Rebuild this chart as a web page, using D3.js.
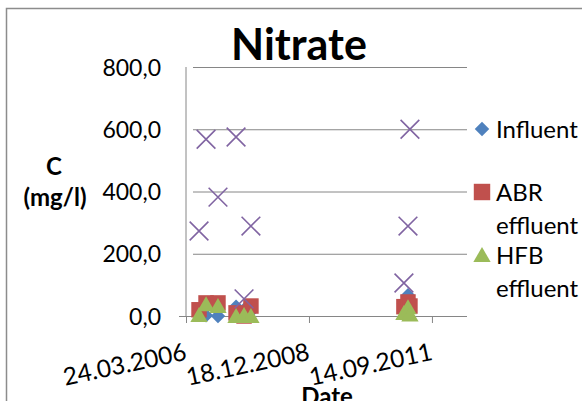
<!DOCTYPE html>
<html>
<head>
<meta charset="utf-8">
<script src="https://cdn.jsdelivr.net/npm/d3@7"></script>
<style>
  body { margin: 0; background: #fff; }
  text { font-family: Lato, "Open Sans", sans-serif; fill: #000; }
</style>
</head>
<body>
<div id="chart"></div>
<script>
const width = 582;
const height = 401;

const dates = ['08.07.2006', '03.09.2006', '09.12.2006', '05.05.2007', '09.07.2007',
               '03.09.2007', '29.01.2011', '03.03.2011', '19.03.2011'];
const influent = [10, 2, 0, 30, 20, 15, 40, 67, 50];
const abr = [20, 42, 42, 10, 0, 32, 30, 45, 32];
const hfb = [3, 38, 32, 0, 3, 0, 10, 28, 5];
const other = [273, 568, 382, 575, 55, 289, 106, 289, 600];

const xTicks = ['24.03.2006', '18.12.2008', '14.09.2011'];
const xEnd = '25.06.2012';
const yTicks = [0, 200, 400, 600, 800];

const colors = { inf: '#4f81bd', abr: '#c0504d', hfb: '#9bbb59', oth: '#8064a2' };

const parse = d3.utcParse('%d.%m.%Y');
const fmt = d3.formatLocale({ decimal: ',', thousands: '.', grouping: [3], currency: ['', ''] }).format('.1f');

const plot = { left: 186, right: 467, top: 67, bottom: 316 };

const x = d3.scaleUtc()
    .domain([parse(xTicks[0]), parse(xEnd)])
    .range([plot.left, plot.right]);
const y = d3.scaleLinear()
    .domain([0, 800])
    .range([plot.bottom, plot.top]);

const svg = d3.select('#chart')
    .append('svg')
    .attr('width', width)
    .attr('height', height);

// outer chart frame (cut off on right and bottom)
svg.append('rect')
    .attr('x', 6.5).attr('y', 8.5)
    .attr('width', 640).attr('height', 460)
    .attr('fill', '#fff')
    .attr('stroke', '#8c8c8c')
    .attr('stroke-width', 1.5);

// title
svg.append('text')
    .attr('x', 299).attr('y', 60)
    .attr('text-anchor', 'middle')
    .style('font-size', '43px')
    .style('font-weight', 'bold')
    .text('Nitrate');

// y gridlines + axis
const yAxis = svg.append('g')
    .attr('transform', `translate(${plot.left},0)`)
    .call(d3.axisLeft(y).tickValues(yTicks).tickSize(-(plot.right - plot.left)).tickSizeOuter(0).tickPadding(25).tickFormat(fmt));
yAxis.select('.domain').remove();
yAxis.selectAll('line').attr('stroke', '#868686').attr('x1', 7);
yAxis.selectAll('text').style('font-size', '23px').attr('dy', '0.35em');

svg.append('line')
    .attr('x1', plot.left).attr('x2', plot.left)
    .attr('y1', plot.top).attr('y2', plot.bottom)
    .attr('stroke', '#868686');

// x axis
const xAxis = svg.append('g')
    .attr('transform', `translate(0,${plot.bottom})`)
    .call(d3.axisBottom(x).tickValues(xTicks.map(parse)).tickSize(7).tickSizeOuter(0).tickFormat(''));
xAxis.select('.domain').attr('stroke', '#868686').attr('d', `M${plot.left - 7},0.5H${plot.right}`);
xAxis.selectAll('line').attr('stroke', '#868686');

svg.append('g')
    .selectAll('text')
    .data(xTicks)
    .enter()
        .append('text')
        .attr('transform', d => `translate(${x(parse(d)) - 2},342) rotate(-12)`)
        .attr('y', 18)
        .attr('text-anchor', 'end')
        .style('font-size', '24.5px')
        .text(d => d);

// axis titles
svg.append('text')
    .attr('x', 54).attr('y', 175)
    .attr('text-anchor', 'middle')
    .style('font-size', '24px').style('font-weight', 'bold')
    .text('C');
svg.append('text')
    .attr('x', 55).attr('y', 206)
    .attr('text-anchor', 'middle')
    .style('font-size', '24px').style('font-weight', 'bold')
    .text('(mg/l)');
svg.append('text')
    .attr('x', 327).attr('y', 405)
    .attr('text-anchor', 'middle')
    .style('font-size', '24px').style('font-weight', 'bold')
    .text('Date');

// markers
const diamond = d3.symbol(d3.symbolSquare, 105);
const square = d3.symbol(d3.symbolSquare, 240);
const triangle = d3.symbol(d3.symbolTriangle, 130);
const cross = d3.symbol(d3.symbolX, 230);

const pts = vals => dates.map((d, i) => ({ date: parse(d), v: vals[i] }));

svg.append('g').selectAll('path')
    .data(pts(influent))
    .enter().append('path')
        .attr('d', diamond)
        .attr('transform', d => `translate(${x(d.date)},${y(d.v)}) rotate(45)`)
        .attr('fill', colors.inf);

svg.append('g').selectAll('path')
    .data(pts(abr))
    .enter().append('path')
        .attr('d', square)
        .attr('transform', d => `translate(${x(d.date)},${y(d.v)})`)
        .attr('fill', colors.abr);

svg.append('g').selectAll('path')
    .data(pts(hfb))
    .enter().append('path')
        .attr('d', triangle)
        .attr('transform', d => `translate(${x(d.date)},${y(d.v) + 2})`)
        .attr('fill', colors.hfb);

svg.append('g').selectAll('path')
    .data(pts(other))
    .enter().append('path')
        .attr('d', cross)
        .attr('transform', d => `translate(${x(d.date)},${y(d.v)})`)
        .attr('fill', 'none')
        .attr('stroke', colors.oth)
        .attr('stroke-width', 1.6);

// legend
const legendRows = [
    { lines: ['Influent'], y: 129, shape: diamond, rot: 45, color: colors.inf },
    { lines: ['ABR', 'effluent'], y: 192, shape: d3.symbol(d3.symbolSquare, 270), rot: 0, color: colors.abr },
    { lines: ['HFB', 'effluent'], y: 255, shape: triangle, rot: 0, color: colors.hfb }
];
const legend = svg.append('g');
legendRows.forEach((r, i) => {
    legend.append('path')
        .attr('d', r.shape)
        .attr('transform', `translate(482,${r.y + (i === 2 ? 2 : 0)}) rotate(${r.rot})`)
        .attr('fill', r.color);
    r.lines.forEach((t, j) => {
        legend.append('text')
            .attr('x', 496).attr('y', r.y + j * 33)
            .attr('dy', '0.36em')
            .style('font-size', '24px')
            .text(t);
    });
});
</script>
</body>
</html>
